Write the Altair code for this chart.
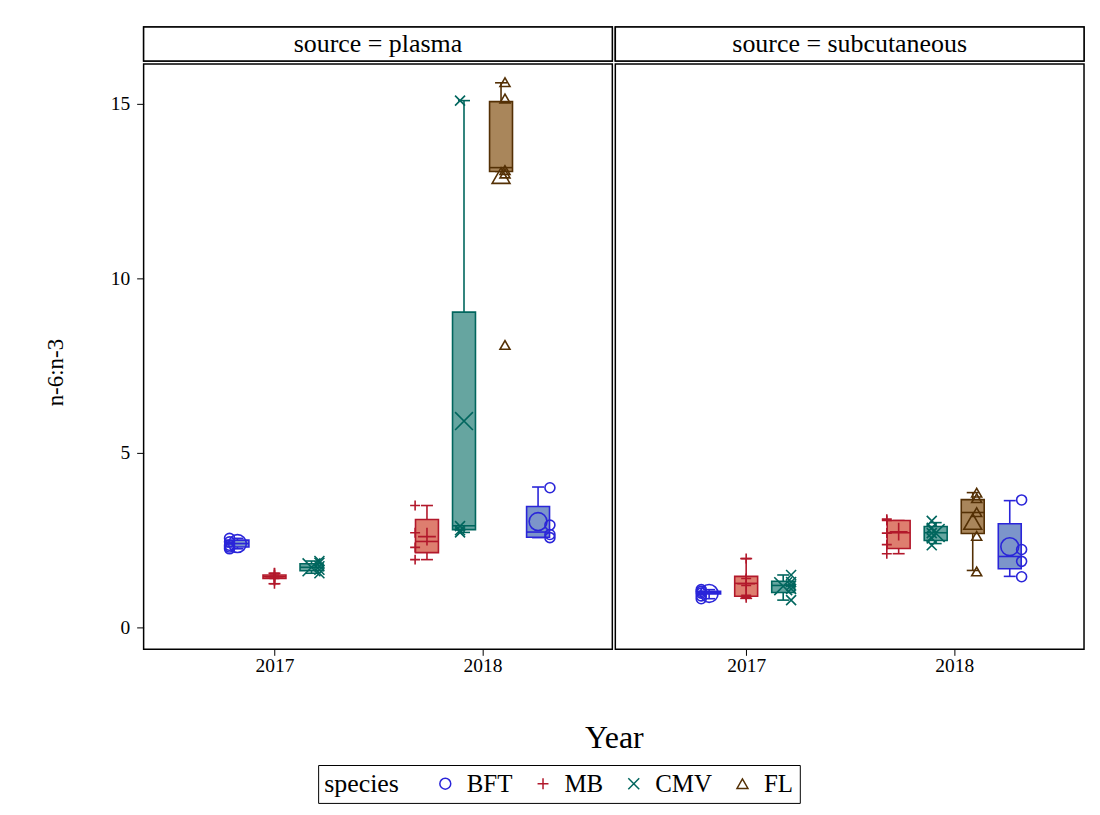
import altair as alt
import pandas as pd

FONT = "Liberation Serif"

sources = ["plasma", "subcutaneous"]
species = ["BFT", "MB", "CMV", "FL"]
year_order = {2017: ["BFT", "MB", "CMV"], 2018: ["MB", "CMV", "FL", "BFT"]}
stroke_colors = ["#2A25D9", "#B2182B", "#01665E", "#543005"]
fill_colors = ["#7C95CA", "#DE7E6F", "#66A5A0", "#A9865B"]

# one row per box (source, year, species)
grp_source = ["plasma"] * 7 + ["subcutaneous"] * 7
grp_year = [2017, 2017, 2017, 2018, 2018, 2018, 2018] * 2
grp_species = ["BFT", "MB", "CMV", "MB", "CMV", "FL", "BFT"] * 2
whisker_lo = [2.25, 1.25, 1.55, 1.94, 2.72, 13.06, 2.57,
              0.82, 0.83, 0.78, 2.11, 2.40, 1.63, 1.46]
box_q1 = [2.30, 1.40, 1.62, 2.14, 2.80, 13.06, 2.58,
          0.96, 0.89, 1.00, 2.26, 2.49, 2.69, 1.68]
box_median = [2.40, 1.45, 1.72, 2.46, 2.91, 13.17, 2.73,
              1.00, 1.26, 1.20, 2.71, 2.71, 3.29, 2.03]
box_q3 = [2.50, 1.50, 1.82, 3.09, 9.03, 15.06, 3.46,
          1.03, 1.46, 1.32, 3.06, 2.89, 3.66, 2.97]
whisker_hi = [2.55, 1.55, 1.90, 3.49, 15.09, 15.60, 4.02,
              1.08, 1.97, 1.50, 3.06, 3.00, 3.86, 3.63]
box_mean = [2.40, 1.45, 1.72, 2.60, 5.91, 12.94, 3.03,
            0.97, 1.25, 1.18, 2.74, 2.70, 3.03, 2.31]
point_values = [
    [2.25, 2.30, 2.35, 2.45, 2.55],
    [1.25, 1.40, 1.45, 1.50, 1.55],
    [1.55, 1.65, 1.75, 1.85, 1.90],
    [1.94, 2.29, 2.71, 3.49],
    [2.72, 2.78, 2.90, 15.09],
    [8.09, 13.00, 13.10, 15.15, 15.62],
    [2.57, 2.66, 2.93, 4.00],
    [0.82, 0.90, 0.98, 1.03, 1.08],
    [0.85, 0.92, 1.20, 1.40, 1.97],
    [0.78, 1.10, 1.20, 1.30, 1.50],
    [2.11, 2.37, 2.70, 3.06, 3.10],
    [2.35, 2.55, 2.70, 2.85, 3.05],
    [1.60, 2.62, 3.30, 3.70, 3.86],
    [1.45, 1.89, 2.23, 3.65],
]

y_ticks = [0, 5, 10, 15]
x_ticks = [2017, 2018]

BOX_STEP = 0.178   # cluster spacing of boxes, in years
PT_STEP = 0.216    # cluster spacing of the scatter points, in years


def cluster_offset(year, sp, step):
    order = year_order[year]
    return (order.index(sp) - (len(order) - 1) / 2) * step


box_df = pd.DataFrame({
    "source": grp_source, "year": grp_year, "species": grp_species,
    "lo": whisker_lo, "q1": box_q1, "median": box_median,
    "q3": box_q3, "hi": whisker_hi, "mean": box_mean,
})
box_df["xbox"] = [y + cluster_offset(y, s, BOX_STEP) for y, s in zip(grp_year, grp_species)]

# markers: every observation plus the (larger) mean marker of each box
rows = []
for src, yr, sp, vals, mn in zip(grp_source, grp_year, grp_species, point_values, box_mean):
    for v in vals:
        rows.append({"source": src, "species": sp, "value": v, "kind": "point",
                     "xpos": yr + cluster_offset(yr, sp, PT_STEP)})
    rows.append({"source": src, "species": sp, "value": mn, "kind": "mean",
                 "xpos": yr + cluster_offset(yr, sp, BOX_STEP)})
mk_df = pd.DataFrame(rows)

HLINE = "M-1,0L1,0"
PLUS = "M-1,0L1,0M0,-1L0,1"
XMARK = "M-1,-1L1,1M-1,1L1,-1"
shape_range = ["circle", PLUS, XMARK, "triangle-up"]

xscale = alt.Scale(domain=[2016.395, 2018.6], nice=False, zero=False)
yscale = alt.Scale(domain=[-0.63, 16.14], nice=False, zero=False)
color_scale = alt.Scale(domain=species, range=stroke_colors)
shape_scale = alt.Scale(domain=species, range=shape_range)
# box outline / fill scales: same mapping, listed in reverse so their (hidden)
# legends are never merged with the visible species legend
stroke_scale = alt.Scale(domain=species[::-1], range=stroke_colors[::-1])
fill_scale = alt.Scale(domain=species[::-1], range=fill_colors[::-1])
size_scale = alt.Scale(domain=["point", "mean"], range=[100, 320])

PW, PH, HH = 470, 587, 34

legend = alt.Legend(
    title="species", orient="none", legendX=175, legendY=740,
    direction="horizontal", titleOrient="left",
    titleFont=FONT, titleFontSize=26, titleFontWeight="normal", titleColor="black",
    titlePadding=33, titleBaseline="middle",
    labelFont=FONT, labelFontSize=25, labelColor="black",
    symbolSize=120, symbolStrokeWidth=1.5, columnPadding=18, labelOffset=9,
    strokeColor="black", padding=6,
)


def plot_panel(src, first):
    if first:
        xaxis = alt.Axis(values=x_ticks, format="d", title="Year", grid=False, domain=False,
                         tickSize=6, tickColor="black", labelFontSize=19.5, labelPadding=1,
                         titleFontSize=32, titleFontWeight="normal", titleX=PW + 1.5,
                         titleY=88, titleAlign="center", titleBaseline="middle")
        yaxis = alt.Axis(values=y_ticks, title="n-6:n-3", grid=False, domain=False,
                         tickSize=7, tickColor="black", labelFontSize=19.5, labelPadding=7,
                         titleFontSize=23, titleFontWeight="normal", titleX=-88, titleY=309,
                         titleAngle=270, titleAlign="center", titleBaseline="middle")
    else:
        xaxis = alt.Axis(values=x_ticks, format="d", title=None, grid=False, domain=False,
                         tickSize=6, tickColor="black", labelFontSize=19.5, labelPadding=1)
        yaxis = None

    def X(f):
        return alt.X(f"{f}:Q", scale=xscale, axis=xaxis)

    def Y(f):
        return alt.Y(f"{f}:Q", scale=yscale, axis=yaxis)

    stk = alt.Stroke("species:N", scale=stroke_scale, legend=None)
    b = alt.Chart(box_df).transform_filter(alt.datum.source == src)

    whisk = b.mark_rule(strokeWidth=1.6).encode(x=X("xbox"), y=Y("lo"), y2="hi", stroke=stk)
    cap_lo = b.mark_point(shape=HLINE, size=144, strokeWidth=1.6, filled=False, opacity=1).encode(
        x=X("xbox"), y=Y("lo"), stroke=stk)
    cap_hi = b.mark_point(shape=HLINE, size=144, strokeWidth=1.6, filled=False, opacity=1).encode(
        x=X("xbox"), y=Y("hi"), stroke=stk)
    box = b.mark_bar(size=23, strokeWidth=1.6).encode(
        x=X("xbox"), y=Y("q1"), y2="q3",
        fill=alt.Fill("species:N", scale=fill_scale, legend=None), stroke=stk)
    med = b.mark_point(shape=HLINE, size=529, strokeWidth=1.6, filled=False, opacity=1).encode(
        x=X("xbox"), y=Y("median"), stroke=stk)
    marks = alt.Chart(mk_df).transform_filter(alt.datum.source == src).mark_point(
        strokeWidth=1.6, filled=False, opacity=1).encode(
        x=X("xpos"), y=Y("value"),
        color=alt.Color("species:N", scale=color_scale, legend=legend),
        shape=alt.Shape("species:N", scale=shape_scale, legend=legend),
        size=alt.Size("kind:N", scale=size_scale, legend=None))

    return alt.layer(whisk, cap_lo, cap_hi, box, med, marks).properties(width=PW, height=PH)


def header_panel(src):
    hb = alt.Chart(pd.DataFrame({"label": [f"source = {src}"]}))
    hx = alt.X("label:N", axis=None, scale=alt.Scale(paddingInner=0, paddingOuter=0))
    frame = hb.mark_rect(fill="white", stroke="black", strokeWidth=1.5).encode(x=hx)
    text = hb.mark_text(font=FONT, fontSize=26, color="black").encode(x=hx, text="label:N")
    return alt.layer(frame, text).properties(width=PW, height=HH)


headers = alt.hconcat(*[header_panel(s) for s in sources], spacing=3, bounds="flush")
plots = alt.hconcat(*[plot_panel(s, i == 0) for i, s in enumerate(sources)],
                    spacing=3, bounds="flush")

chart = alt.vconcat(headers, plots, spacing=0).properties(
    padding={"left": 36, "top": 16, "right": 6, "bottom": 6}
).configure(font=FONT).configure_view(stroke="black", strokeWidth=1.5).configure_axis(
    labelFont=FONT, titleFont=FONT, labelColor="black", titleColor="black")

chart.save("out.html", embed_options={"renderer": "svg", "actions": False})
